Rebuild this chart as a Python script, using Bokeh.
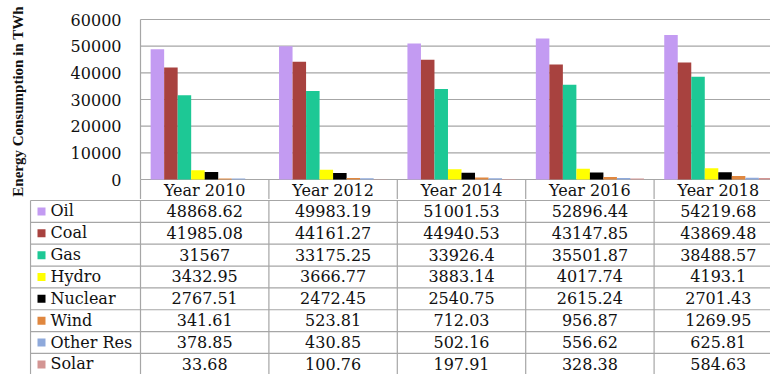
from bokeh.plotting import figure
from bokeh.layouts import column
from bokeh.models import Range1d, FixedTicker
from bokeh.core.properties import value
from bokeh.embed import file_html
from bokeh.resources import INLINE

# ---------------- data ----------------
years = ["Year 2010", "Year 2012", "Year 2014", "Year 2016", "Year 2018"]
sources = ["Oil", "Coal", "Gas", "Hydro", "Nuclear", "Wind", "Other Res", "Solar"]
oil = [48868.62, 49983.19, 51001.53, 52896.44, 54219.68]
coal = [41985.08, 44161.27, 44940.53, 43147.85, 43869.48]
gas = [31567, 33175.25, 33926.4, 35501.87, 38488.57]
hydro = [3432.95, 3666.77, 3883.14, 4017.74, 4193.1]
nuclear = [2767.51, 2472.45, 2540.75, 2615.24, 2701.43]
wind = [341.61, 523.81, 712.03, 956.87, 1269.95]
other_res = [378.85, 430.85, 502.16, 556.62, 625.81]
solar = [33.68, 100.76, 197.91, 328.38, 584.63]
y_ticks = [0, 10000, 20000, 30000, 40000, 50000, 60000]
y_label = "Energy Consumption in TWh"

series = [oil, coal, gas, hydro, nuclear, wind, other_res, solar]
colors = ["#C39BF2", "#A8423F", "#1DC895", "#FFFF00", "#000000",
          "#E0873F", "#8EA9DB", "#D39593"]

# ---------------- layout constants ----------------
W = 770
COL_PX = 128.4          # pixel width of one year column
PLOT_LEFT = 140         # pixel x of plot area's left edge
FRAME_LEFT = 30         # pixel x where both frames start (table's left edge)
ROW_PX = 21.85          # table row height
UNIT_PX = 160 / 60000   # px per TWh
GRID = "#A6A6A6"
TXT = "#111111"
FONT = value("DejaVu Serif")

x_start = -(PLOT_LEFT - FRAME_LEFT + 1) / COL_PX
x_end = (W - PLOT_LEFT) / COL_PX

# ---------------- top figure: bars + header row ----------------
top_h = 199
top_border = 3
frame_h = top_h - top_border
zero_px_from_bottom = 20
y0 = -zero_px_from_bottom / UNIT_PX
y1 = y0 + frame_h / UNIT_PX

p = figure(width=W, height=top_h, output_backend="svg", toolbar_location=None,
           x_range=Range1d(x_start, x_end), y_range=Range1d(y0, y1),
           min_border_left=FRAME_LEFT - 1, min_border_right=0,
           min_border_top=top_border, min_border_bottom=0)
p.outline_line_color = None
p.xaxis.visible = False
p.grid.visible = False
p.yaxis.ticker = FixedTicker(ticks=[])
p.yaxis.axis_line_color = None
p.yaxis.major_tick_line_color = None
p.yaxis.minor_tick_line_color = None
p.yaxis.axis_label = y_label
p.yaxis.axis_label_text_font = "Liberation Serif"
p.yaxis.axis_label_text_font_style = "bold"
p.yaxis.axis_label_text_font_size = "15px"
p.yaxis.axis_label_text_color = TXT
p.yaxis.axis_label_standoff = 4

# gridlines and tick labels of the value axis
nt = len(y_ticks)
p.segment(x0=[0] * nt, y0=y_ticks, x1=[x_end] * nt, y1=y_ticks,
          line_color=GRID, line_width=1.2)
tick_x = -(PLOT_LEFT - 121) / COL_PX
p.text(x=[tick_x] * nt, y=y_ticks, text=[str(v) for v in y_ticks],
       text_font=FONT, text_font_size="16px", text_align="right",
       text_baseline="middle", text_color=TXT)

n = len(sources)
bar_w = 1 / (n + 1.5)
group_off = 0.75 * bar_w
xs_base = list(range(len(years)))
for i, (vals, c) in enumerate(zip(series, colors)):
    xs = [k + group_off + (i + 0.5) * bar_w for k in xs_base]
    p.vbar(x=xs, top=vals, bottom=0, width=bar_w, fill_color=c, line_color=None)

# header row (year labels) and separators
hdr_y = -(zero_px_from_bottom / 2 + 0.5) / UNIT_PX
p.text(x=[k + 0.5 for k in xs_base], y=[hdr_y] * len(years), text=years,
       text_font=FONT, text_font_size="16px", text_align="center",
       text_baseline="middle", text_color=TXT)
sep_x = list(range(len(years) + 1))
p.segment(x0=sep_x, y0=[y0] * len(sep_x), x1=sep_x, y1=[0] * len(sep_x),
          line_color=GRID, line_width=1.2)
p.segment(x0=[0], y0=[0], x1=[0], y1=[y_ticks[-1]], line_color=GRID, line_width=1.2)

# ---------------- bottom figure: data table ----------------
bot_h = 374 - top_h
by_top = -1 / ROW_PX
by_bot = by_top + bot_h / ROW_PX
t = figure(width=W, height=bot_h, output_backend="svg", toolbar_location=None,
           x_range=Range1d(x_start, x_end), y_range=Range1d(by_bot, by_top),
           min_border_left=FRAME_LEFT - 1, min_border_right=0,
           min_border_top=0, min_border_bottom=0)
t.outline_line_color = None
t.axis.visible = False
t.grid.visible = False

left_x = -(PLOT_LEFT - FRAME_LEFT) / COL_PX
rows = list(range(n + 1))
t.segment(x0=[left_x] * len(rows), y0=rows, x1=[x_end] * len(rows), y1=rows,
          line_color=GRID, line_width=1.2)
vx = [left_x] + sep_x
t.segment(x0=vx, y0=[0] * len(vx), x1=vx, y1=[n] * len(vx),
          line_color=GRID, line_width=1.2)

key_x = -(PLOT_LEFT - 41) / COL_PX
lbl_x = -(PLOT_LEFT - 50) / COL_PX
row_c = [r + 0.5 for r in range(n)]
t.rect(x=[key_x] * n, y=row_c, width=8, height=8, width_units="screen",
       height_units="screen", fill_color=colors, line_color=None)
t.text(x=[lbl_x] * n, y=row_c, text=sources, text_font=FONT, text_font_size="16px",
       text_align="left", text_baseline="middle", text_color=TXT, y_offset=-0.5)


def fmt(v):
    s = "%.2f" % v
    return s.rstrip("0").rstrip(".")


tx, ty, tt = [], [], []
for r, vals in enumerate(series):
    for k, v in enumerate(vals):
        tx.append(k + 0.5)
        ty.append(r + 0.5)
        tt.append(fmt(v))
t.text(x=tx, y=ty, text=tt, text_font=FONT, text_font_size="16px",
       text_align="center", text_baseline="middle", text_color=TXT, y_offset=-0.5)

layout = column(p, t, spacing=0)
open("out.html", "w").write(file_html(layout, INLINE))
